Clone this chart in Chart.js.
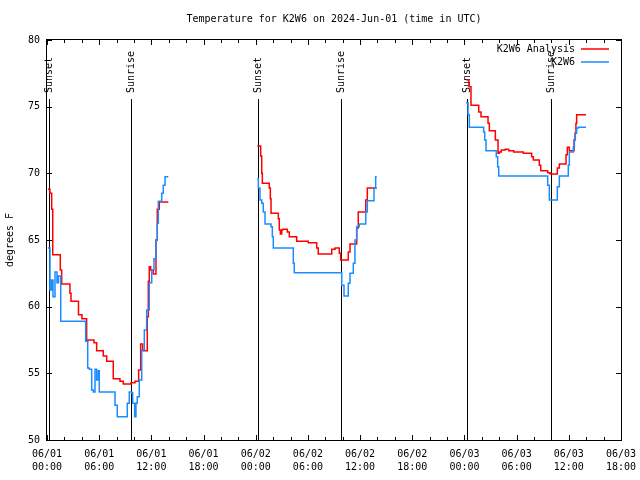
<!DOCTYPE html>
<html>
<head>
<meta charset="utf-8">
<script src="https://cdn.jsdelivr.net/npm/chart.js@4"></script>
<style>
  html, body { margin: 0; padding: 0; background: #fff; }
</style>
</head>
<body>
<canvas id="c" width="640" height="480"></canvas>
<script>
// hours since 06/01 00:00 UTC, temps in deg F
const redH1 = [0.11,0.34,0.54,0.66,1.53,1.69,2.64,2.76,3.62,4.02,4.56,4.68,5.40,5.71,6.47,6.86,7.62,8.39,8.77,9.66,10.12,10.54,10.77,11.00,11.53,11.65,11.76,11.92,12.22,12.53,12.68,12.91,13.95];
const redT1 = [68.8,68.5,67.3,63.9,62.75,61.7,61.0,60.4,59.4,59.1,57.4,57.5,57.3,56.7,56.3,55.9,54.6,54.4,54.2,54.3,54.4,55.25,57.2,56.7,59.25,61.9,63.0,62.75,62.45,65.0,67.3,67.85,67.85];
const redH2 = [24.18,24.57,24.69,24.76,25.56,25.68,25.76,26.60,26.71,26.83,26.99,27.10,27.63,27.86,28.71,30.04,31.01,31.19,32.74,33.12,33.61,33.77,34.64,34.84,35.61,35.79,36.65,36.83,37.91];
const redT2 = [72.05,71.3,70.0,69.25,68.9,68.1,67.0,66.6,65.75,65.45,65.75,65.8,65.6,65.25,64.9,64.8,64.4,63.95,64.3,64.4,64.0,63.5,64.1,64.7,65.9,67.1,68.0,68.9,68.9];
const redH3 = [48.23,48.52,48.75,49.64,49.90,50.71,50.86,51.55,51.86,52.01,52.24,52.70,53.09,53.66,54.77,55.73,55.92,56.61,56.77,57.57,57.84,58.68,58.91,59.68,59.83,60.06,60.60,60.71,60.82,60.90,61.98];
const redT3 = [77.0,76.5,75.1,74.6,74.25,73.75,73.2,72.5,71.5,71.6,71.75,71.8,71.7,71.6,71.5,71.25,71.0,70.6,70.2,70.05,69.95,70.4,70.7,71.4,71.95,71.7,72.5,73.0,73.75,74.4,74.4];

const bluH1 = [0.11,0.34,0.52,0.69,0.92,1.15,1.32,1.58,4.45,4.68,4.86,5.14,5.32,5.52,5.71,5.90,6.01,7.82,8.08,9.23,9.46,9.74,9.85,10.08,10.23,10.38,10.61,10.89,11.19,11.46,11.76,12.04,12.30,12.53,12.68,12.80,13.19,13.37,13.57,13.95];
const bluT1 = [64.4,61.25,62.0,60.75,62.6,61.8,62.3,58.9,57.4,55.4,55.3,53.75,53.6,55.3,54.5,55.2,53.6,52.6,51.75,52.75,53.6,53.55,52.75,51.75,52.75,53.25,54.5,56.75,58.25,59.75,61.8,62.75,63.6,65.0,66.25,67.9,68.5,69.1,69.75,69.75];
const bluH2 = [24.18,24.30,24.49,24.69,24.87,25.07,25.76,25.91,26.02,28.32,28.43,33.89,34.15,34.64,34.84,35.22,35.41,35.61,35.91,36.65,36.83,37.60,37.79,37.91];
const bluT2 = [69.6,68.9,68.0,67.75,67.1,66.2,66.0,65.25,64.4,63.25,62.55,61.6,60.8,61.75,62.5,63.25,65.0,66.0,66.2,67.1,67.95,68.9,69.75,69.75];
const bluH3 = [48.18,48.41,48.56,50.21,50.33,50.48,51.66,51.82,51.94,57.57,57.76,58.68,58.91,59.94,60.06,60.52,60.64,60.75,60.90,61.09,61.98];
const bluT3 = [75.3,74.4,73.45,73.1,72.5,71.7,71.25,70.5,69.8,69.1,68.0,69.0,69.8,70.6,71.6,72.0,72.5,73.0,73.4,73.45,73.45];

const sunHours = [0.27, 9.69, 24.25, 33.75, 48.32, 57.92];
const sunLabels = ['Sunset', 'Sunrise', 'Sunset', 'Sunrise', 'Sunset', 'Sunrise'];

const tickDays = ['06/01','06/01','06/01','06/01','06/02','06/02','06/02','06/02','06/03','06/03','06/03','06/03'];
const tickTimes = ['00:00','06:00','12:00','18:00','00:00','06:00','12:00','18:00','00:00','06:00','12:00','18:00'];

const RED = '#ff0000';
const BLUE = '#1a8cff';
const FONT = 'DejaVu Sans Mono';

// join nights, null point between them so the line breaks
function pts(parts) {
  let out = [];
  parts.forEach(p => {
    for (let i = 0; i < p[0].length; i++) out.push({ x: p[0][i], y: p[1][i] });
    out.push({ x: p[0][p[0].length - 1] + 0.5, y: null });
  });
  return out;
}

const deco = {
  id: 'deco',
  beforeDatasetsDraw(chart) {
    const { ctx, chartArea: a } = chart;
    const x = chart.scales.x;
    ctx.save();
    ctx.strokeStyle = '#000';
    ctx.fillStyle = '#000';
    ctx.lineWidth = 1;
    ctx.font = '10px "' + FONT + '"';
    for (let i = 0; i < sunHours.length; i++) {
      const px = Math.round(x.getPixelForValue(sunHours[i])) + 0.5;
      ctx.beginPath();
      ctx.moveTo(px, a.bottom);
      ctx.lineTo(px, a.top + 59);
      ctx.stroke();
      ctx.save();
      ctx.translate(px, a.top + 53);
      ctx.rotate(-Math.PI / 2);
      ctx.textAlign = 'left';
      ctx.textBaseline = 'middle';
      ctx.fillText(sunLabels[i], 0, 0);
      ctx.restore();
    }
    ctx.restore();
  },
  afterDraw(chart) {
    const { ctx, chartArea: a } = chart;
    const x = chart.scales.x, y = chart.scales.y;
    ctx.save();
    ctx.strokeStyle = '#000';
    ctx.lineWidth = 1;
    ctx.strokeRect(a.left - 0.5, a.top - 0.5, a.right - a.left + 1, a.bottom - a.top + 1);
    ctx.beginPath();
    for (let h = 0; h <= 66; h += 2) {
      const px = Math.round(x.getPixelForValue(h)) + 0.5;
      const len = h % 6 === 0 ? 5 : 3;
      ctx.moveTo(px, a.bottom); ctx.lineTo(px, a.bottom - len);
      ctx.moveTo(px, a.top); ctx.lineTo(px, a.top + len);
    }
    for (let v = 50; v <= 80; v += 5) {
      const py = Math.round(y.getPixelForValue(v)) + 0.5;
      ctx.moveTo(a.left, py); ctx.lineTo(a.left + 5, py);
      ctx.moveTo(a.right, py); ctx.lineTo(a.right - 5, py);
    }
    ctx.stroke();

    // legend, top right inside the plot
    ctx.font = '10px "' + FONT + '"';
    ctx.fillStyle = '#000';
    ctx.textAlign = 'right';
    ctx.textBaseline = 'middle';
    const items = [chart.data.datasets[1], chart.data.datasets[0]];
    items.forEach((ds, i) => {
      const ty = a.top + 9 + i * 13;
      ctx.fillText(ds.label, a.right - 46, ty);
      ctx.strokeStyle = ds.borderColor;
      ctx.lineWidth = 1.5;
      ctx.beginPath();
      ctx.moveTo(a.right - 40, ty);
      ctx.lineTo(a.right - 12, ty);
      ctx.stroke();
    });
    ctx.restore();
  }
};

new Chart(document.getElementById('c'), {
  type: 'line',
  data: {
    datasets: [
      {
        label: 'K2W6',
        data: pts([[bluH1, bluT1], [bluH2, bluT2], [bluH3, bluT3]]),
        borderColor: BLUE,
        borderWidth: 1.5,
        pointRadius: 0,
        stepped: true,
        spanGaps: false,
        order: 1
      },
      {
        label: 'K2W6 Analysis',
        data: pts([[redH1, redT1], [redH2, redT2], [redH3, redT3]]),
        borderColor: RED,
        borderWidth: 1.5,
        pointRadius: 0,
        stepped: true,
        spanGaps: false,
        order: 2
      }
    ]
  },
  options: {
    responsive: false,
    animation: false,
    layout: { padding: { left: 0, right: 19, top: 0, bottom: 0 } },
    plugins: {
      legend: { display: false },
      tooltip: { enabled: false },
      title: {
        display: true,
        text: 'Temperature for K2W6 on 2024-Jun-01 (time in UTC)',
        color: '#000',
        fullSize: false,
        font: { family: FONT, size: 10, weight: 'normal', lineHeight: 1.2 },
        padding: { top: 13, bottom: 15 }
      }
    },
    scales: {
      x: {
        type: 'linear',
        min: 0,
        max: 66,
        grid: { display: false, drawTicks: false },
        border: { display: false },
        ticks: {
          stepSize: 6,
          autoSkip: false,
          maxRotation: 0,
          padding: 8,
          color: '#000',
          font: { family: FONT, size: 10, lineHeight: 1.3 },
          callback: v => {
            const i = Math.round(v / 6);
            return [tickDays[i], tickTimes[i]];
          }
        },
        afterFit: s => { s.height = 40; s.paddingLeft = 0; s.paddingRight = 0; }
      },
      y: {
        min: 50,
        max: 80,
        grid: { display: false, drawTicks: false },
        border: { display: false },
        ticks: {
          stepSize: 5,
          padding: 7,
          color: '#000',
          font: { family: FONT, size: 10 }
        },
        title: {
          display: true,
          text: 'degrees F',
          color: '#000',
          font: { family: FONT, size: 10, lineHeight: 1.2 },
          padding: { top: 4, bottom: 0 }
        },
        afterFit: s => { s.width = 47; s.paddingTop = 0; s.paddingBottom = 0; }
      }
    }
  },
  plugins: [deco]
});
</script>
</body>
</html>
